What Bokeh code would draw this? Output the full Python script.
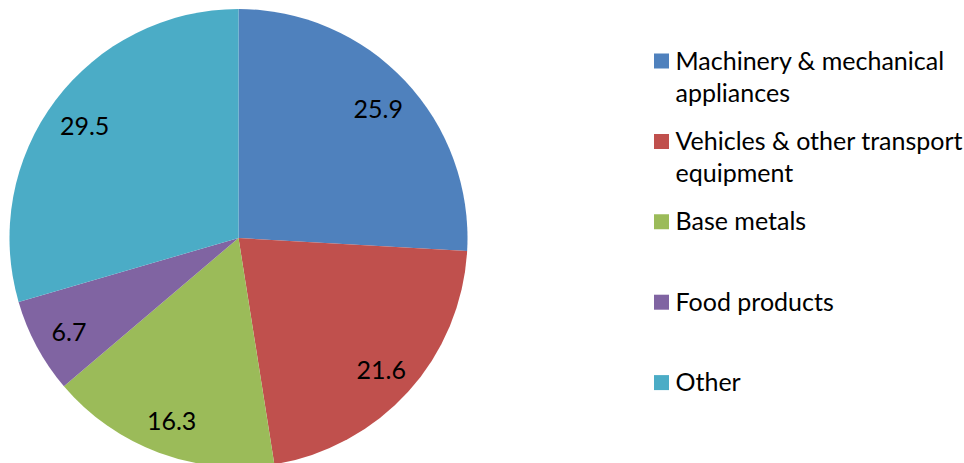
import math
from bokeh.plotting import figure
from bokeh.models import Range1d, ColumnDataSource
from bokeh.core.properties import value
from bokeh.embed import file_html
from bokeh.resources import INLINE

categories = ["Machinery & mechanical\nappliances",
              "Vehicles & other transport\nequipment",
              "Base metals",
              "Food products",
              "Other"]
values = [25.9, 21.6, 16.3, 6.7, 29.5]
colors = ["#4F81BD", "#C0504D", "#9BBB59", "#8064A2", "#4BACC6"]

W, H = 964, 463
FONT = "Lato"
FS = "25px"

p = figure(width=W, height=H, x_range=Range1d(0, W), y_range=Range1d(0, H),
           output_backend="svg", toolbar_location=None, min_border=0,
           x_axis_location=None, y_axis_location=None)
p.grid.visible = False
p.outline_line_color = None


def wy(y):
    # picture y (from top) -> figure data y
    return H - y


def wx(x):
    return x


cx, cy, R = wx(238), wy(237.5), 229
total = sum(values)

starts, ends, lx, ly, labels = [], [], [], [], []
cum = 0.0
for v in values:
    a0 = math.pi / 2 - 2 * math.pi * cum / total
    a1 = math.pi / 2 - 2 * math.pi * (cum + v) / total
    starts.append(a1)
    ends.append(a0)
    mid = math.pi / 2 - 2 * math.pi * (cum + v / 2) / total
    lx.append(cx + 0.84 * R * math.cos(mid))
    ly.append(cy + 0.84 * R * math.sin(mid) - 3)
    labels.append(f"{v:.1f}")
    cum += v

src = ColumnDataSource(dict(start=starts, end=ends, color=colors))
p.wedge(x=cx, y=cy, radius=R, start_angle="start", end_angle="end",
        fill_color="color", line_color=None, source=src)

p.text(x=lx, y=ly, text=labels, text_font=value(FONT), text_font_size=FS,
       text_color="#000000", text_align="center", text_baseline="middle")

# legend
sq_x, sq_y, tx, ty, tt = [], [], [], [], []
for i, name in enumerate(categories):
    yc = 60.5 + 80.4 * i
    sq_x.append(wx(661))
    sq_y.append(wy(yc))
    for j, line in enumerate(name.split("\n")):
        tx.append(wx(675))
        ty.append(wy(yc - 1.5 + 32 * j))
        tt.append(line)

p.rect(x=sq_x, y=sq_y, width=15, height=15, fill_color=colors, line_color=None)
p.text(x=tx, y=ty, text=tt, text_font=value(FONT), text_font_size=FS,
       text_color="#000000", text_align="left", text_baseline="alphabetic")

open("out.html", "w").write(file_html(p, INLINE))
